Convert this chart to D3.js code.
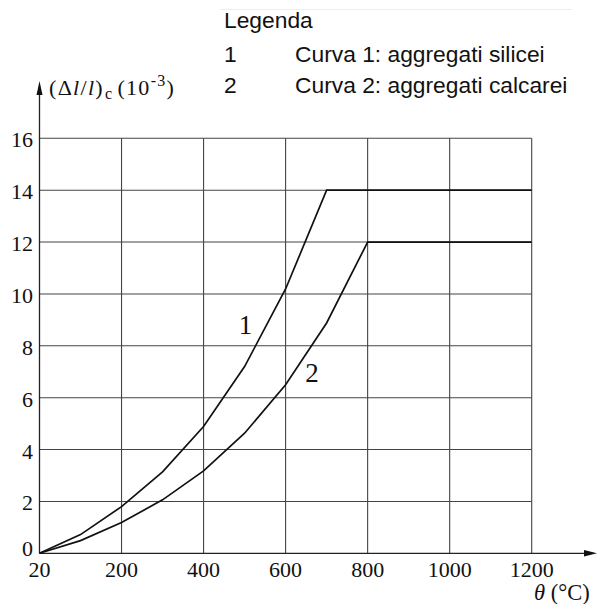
<!DOCTYPE html>
<html>
<head>
<meta charset="utf-8">
<script src="https://cdn.jsdelivr.net/npm/d3@7"></script>
<style>
html,body{margin:0;padding:0;background:#fff;}
svg{display:block;}
</style>
</head>
<body>
<svg id="chart" width="597" height="604"></svg>
<script>
// ---- data ----
const xTicks = [20, 200, 400, 600, 800, 1000, 1200];
const yTicks = [0, 2, 4, 6, 8, 10, 12, 14, 16];
const tempsSilicei = [20, 100, 200, 300, 400, 500, 600, 700, 1200];
const strainSilicei = [0, 0.72, 1.80, 3.14, 4.89, 7.20, 10.19, 14.0, 14.0];
const tempsCalcarei = [20, 100, 200, 300, 400, 500, 600, 700, 800, 1200];
const strainCalcarei = [0, 0.49, 1.19, 2.06, 3.18, 4.63, 6.50, 8.88, 12.0, 12.0];
const legendTitle = "Legenda";
const legendKeys = ["1", "2"];
const legendLabels = ["Curva 1: aggregati silicei", "Curva 2: aggregati calcarei"];
const curveLabels = ["1", "2"];
const curveLabelAt = [[486, 8.45], [648, 6.6]];

// ---- layout ----
const svg = d3.select("#chart");
const x0 = 39.5, x1 = 531.7, y0 = 553.3, y1 = 138.3;
const u = (x1 - x0) / 12;
const x = d3.scaleLinear().domain([20, 100, 1200]).range([x0, x0 + u, x1]);
const y = d3.scaleLinear().domain([0, 16]).range([y0, y1]);

const serif = "'Liberation Serif','Times New Roman',serif";
const sans = "'Liberation Sans',Arial,sans-serif";

// faint top rule
svg.append("line").attr("x1", 220).attr("x2", 572).attr("y1", 9.5).attr("y2", 9.5)
  .attr("stroke", "#eeeeee").attr("stroke-width", 1);

// grid
const g = svg.append("g");
g.selectAll(".hg").data(yTicks.filter(d => d > 0)).enter().append("line")
  .attr("x1", x0).attr("x2", x1)
  .attr("y1", d => y(d)).attr("y2", d => y(d))
  .attr("stroke", "#444").attr("stroke-width", 1.1);
g.selectAll(".vg").data(xTicks.filter(d => d > 20)).enter().append("line")
  .attr("x1", d => x(d)).attr("x2", d => x(d))
  .attr("y1", y0).attr("y2", y(16))
  .attr("stroke", "#444").attr("stroke-width", 1.1);

// axes
svg.append("line").attr("x1", x0).attr("x2", 584).attr("y1", y0).attr("y2", y0)
  .attr("stroke", "#222").attr("stroke-width", 1.3);
svg.append("path").attr("d", `M584,${y0-3.2} L597,${y0} L584,${y0+3.2} Z`).attr("fill", "#111");
svg.append("line").attr("x1", x0).attr("x2", x0).attr("y1", y0).attr("y2", 94)
  .attr("stroke", "#222").attr("stroke-width", 1.3);
svg.append("path").attr("d", `M${x0-3},95 L${x0},81 L${x0+3},95 Z`).attr("fill", "#111");

// tick labels
svg.selectAll(".yl").data(yTicks).enter().append("text")
  .attr("x", 33).attr("y", d => d === 0 ? y(d) + 2.5 : y(d) + 9)
  .attr("text-anchor", "end").attr("font-family", serif).attr("font-size", 22)
  .attr("fill", "#111").text(d => d);
svg.selectAll(".xl").data(xTicks).enter().append("text")
  .attr("x", d => x(d)).attr("y", 577)
  .attr("text-anchor", "middle").attr("font-family", serif).attr("font-size", 22)
  .attr("fill", "#111").text(d => d);

// axis titles
const yt = svg.append("text").attr("x", 49).attr("y", 95)
  .attr("font-family", serif).attr("font-size", 22).attr("letter-spacing", 1.3).attr("fill", "#111");
yt.append("tspan").text("(Δ");
yt.append("tspan").attr("font-style", "italic").text("l");
yt.append("tspan").text("/");
yt.append("tspan").attr("font-style", "italic").text("l");
yt.append("tspan").text(")");
yt.append("tspan").attr("font-size", 16).attr("dy", 4).attr("dx", 1).text("c");
yt.append("tspan").attr("dy", -4).attr("dx", 4).text("(10");
yt.append("tspan").attr("font-size", 16).attr("dy", -9).text("-3");
yt.append("tspan").attr("dy", 9).text(")");

const xt = svg.append("text").attr("x", 534).attr("y", 600)
  .attr("font-family", serif).attr("font-size", 22.5).attr("fill", "#111");
xt.append("tspan").attr("font-style", "italic").text("θ");
xt.append("tspan").text(" (°C)");

// curves
const line = d3.line().x(d => x(d[0])).y(d => y(d[1]));
const s1 = tempsSilicei.map((t, i) => [t, strainSilicei[i]]);
const s2 = tempsCalcarei.map((t, i) => [t, strainCalcarei[i]]);
[s1, s2].forEach(s => {
  svg.append("path").datum(s).attr("d", line)
    .attr("fill", "none").attr("stroke", "#111").attr("stroke-width", 1.7)
    .attr("stroke-linejoin", "miter");
});

// curve labels
curveLabels.forEach((c, i) => {
  svg.append("text").attr("x", x(curveLabelAt[i][0])).attr("y", y(curveLabelAt[i][1]))
    .attr("font-family", serif).attr("font-size", 27).attr("fill", "#111").text(c);
});

// legend
svg.append("text").attr("x", 224).attr("y", 28)
  .attr("font-family", sans).attr("font-size", 22.8).attr("fill", "#111").text(legendTitle);
legendKeys.forEach((k, i) => {
  svg.append("text").attr("x", 224).attr("y", 62 + i * 31)
    .attr("font-family", sans).attr("font-size", 22.8).attr("fill", "#111").text(k);
  svg.append("text").attr("x", 295).attr("y", 62 + i * 31)
    .attr("font-family", sans).attr("font-size", 22.8).attr("fill", "#111").text(legendLabels[i]);
});
</script>
</body>
</html>
